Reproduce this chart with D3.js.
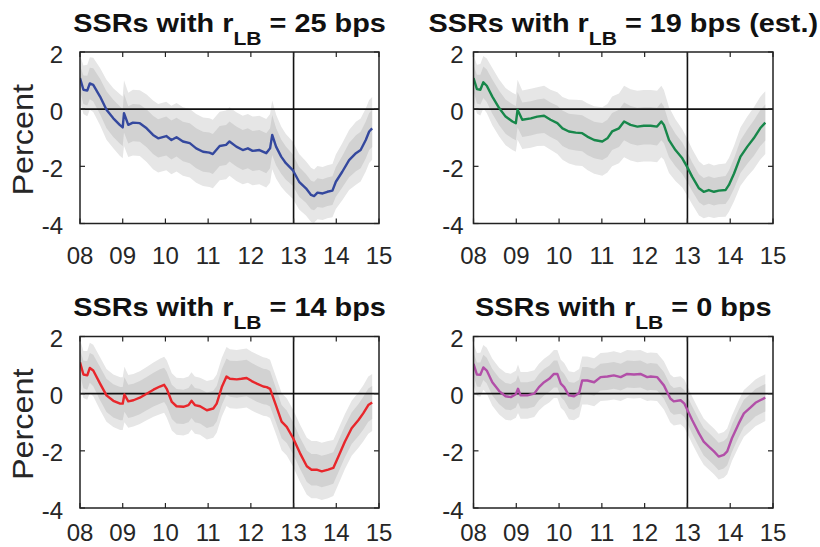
<!DOCTYPE html>
<html><head><meta charset="utf-8">
<script src="https://cdn.jsdelivr.net/npm/d3@7"></script>
<style>body{margin:0;background:#fff}svg{display:block}</style>
</head><body>
<svg id="c" width="820" height="547"></svg>
<script>
// ---- data: rows are [date (decimal year), median, inner half-band, outer half-band]
const xTickValues = [2008, 2009, 2010, 2011, 2012, 2013, 2014, 2015];
const xTickLabels = ["08", "09", "10", "11", "12", "13", "14", "15"];
const yTickValues = [2, 0, -2, -4];
const yTickLabels = ["2", "0", "-2", "-4"];
const markerYear = 2013;
const panelLowerBounds = ["25 bps", "19 bps (est.)", "14 bps", "0 bps"];

const ssr25 = [
[2008.00,1.09,.45,.80],[2008.08,0.68,.50,.85],[2008.17,0.65,.52,.90],[2008.23,0.90,.55,.92],
[2008.31,0.85,.58,.95],[2008.47,0.44,.62,1.00],[2008.62,-0.02,.65,1.05],[2008.78,-0.32,.65,1.05],
[2008.93,-0.55,.65,1.08],[2009.00,-0.64,.65,1.08],[2009.03,-0.14,.68,1.15],[2009.13,-0.55,.65,1.12],
[2009.24,-0.47,.65,1.15],[2009.40,-0.49,.65,1.15],[2009.56,-0.67,.66,1.18],[2009.71,-0.90,.67,1.20],
[2009.83,-1.02,.67,1.20],[2010.02,-0.94,.68,1.20],[2010.14,-1.08,.68,1.20],[2010.26,-0.98,.68,1.20],
[2010.41,-1.13,.69,1.20],[2010.57,-1.19,.70,1.20],[2010.72,-1.37,.70,1.20],[2010.88,-1.49,.70,1.20],
[2011.03,-1.52,.70,1.20],[2011.11,-1.57,.70,1.20],[2011.27,-1.29,.70,1.20],[2011.42,-1.25,.70,1.20],
[2011.50,-1.13,.70,1.20],[2011.66,-1.31,.70,1.20],[2011.81,-1.43,.70,1.20],[2011.93,-1.37,.70,1.20],
[2012.04,-1.46,.70,1.20],[2012.20,-1.43,.70,1.20],[2012.36,-1.54,.70,1.20],[2012.45,-1.37,.70,1.20],
[2012.50,-0.90,.70,1.20],[2012.59,-1.31,.65,1.12],[2012.71,-1.66,.60,1.05],[2012.82,-1.89,.58,1.02],
[2012.98,-2.13,.55,1.00],[2013.13,-2.54,.52,.97],[2013.29,-2.77,.50,.95],[2013.41,-3.00,.50,.95],
[2013.48,-3.04,.50,.93],[2013.56,-2.92,.50,.93],[2013.68,-2.95,.50,.93],[2013.79,-2.89,.50,.93],
[2013.91,-2.85,.50,.93],[2013.99,-2.54,.52,.95],[2014.14,-2.19,.55,1.00],[2014.30,-1.78,.60,1.05],
[2014.46,-1.54,.63,1.10],[2014.57,-1.43,.64,1.10],[2014.69,-1.08,.65,1.10],[2014.77,-0.78,.65,1.10],
[2014.84,-0.67,.65,1.10]
];

const ssr19 = [
[2008.00,1.09,.45,.80],[2008.08,0.70,.50,.85],[2008.16,0.68,.52,.90],[2008.23,0.94,.55,.92],
[2008.31,0.82,.57,.95],[2008.44,0.44,.60,1.00],[2008.60,0.04,.60,1.00],[2008.75,-0.26,.60,1.00],
[2008.91,-0.43,.60,1.00],[2008.99,-0.49,.60,1.00],[2009.03,-0.02,.62,1.05],[2009.14,-0.37,.60,1.02],
[2009.34,-0.32,.60,1.03],[2009.49,-0.26,.60,1.03],[2009.65,-0.23,.60,1.05],[2009.80,-0.37,.60,1.05],
[2009.96,-0.49,.61,1.08],[2010.08,-0.67,.62,1.10],[2010.23,-0.78,.62,1.12],[2010.39,-0.82,.63,1.15],
[2010.54,-0.84,.63,1.15],[2010.66,-0.96,.64,1.17],[2010.82,-1.08,.64,1.18],[2011.01,-1.13,.65,1.20],
[2011.13,-1.02,.65,1.20],[2011.24,-0.78,.65,1.22],[2011.40,-0.67,.65,1.22],[2011.52,-0.43,.66,1.25],
[2011.67,-0.55,.66,1.25],[2011.83,-0.61,.66,1.25],[2011.98,-0.58,.66,1.25],[2012.14,-0.58,.66,1.25],
[2012.29,-0.61,.66,1.25],[2012.39,-0.43,.66,1.25],[2012.45,-0.55,.64,1.22],[2012.57,-1.08,.60,1.15],
[2012.72,-1.43,.57,1.08],[2012.88,-1.72,.55,1.02],[2012.99,-2.01,.53,1.00],[2013.11,-2.36,.50,.97],
[2013.27,-2.77,.49,.95],[2013.38,-2.89,.48,.93],[2013.50,-2.83,.48,.93],[2013.62,-2.89,.48,.92],
[2013.73,-2.85,.48,.92],[2013.89,-2.83,.49,.93],[2013.97,-2.65,.50,.94],[2014.09,-2.25,.53,.97],
[2014.24,-1.66,.57,1.02],[2014.40,-1.31,.60,1.05],[2014.55,-1.02,.62,1.08],[2014.70,-0.67,.63,1.10],
[2014.82,-0.47,.63,1.10]
];

const ssr14 = [
[2008.00,1.10,.45,.80],[2008.08,0.67,.48,.82],[2008.17,0.64,.50,.85],[2008.23,0.90,.52,.88],
[2008.31,0.81,.55,.90],[2008.47,0.35,.58,.92],[2008.62,-0.06,.58,.92],[2008.78,-0.25,.58,.92],
[2008.94,-0.35,.58,.92],[2009.00,-0.35,.58,.92],[2009.04,-0.03,.60,.97],[2009.13,-0.27,.58,.92],
[2009.25,-0.23,.58,.92],[2009.40,-0.14,.58,.92],[2009.56,0.00,.58,.93],[2009.72,0.14,.59,.95],
[2009.87,0.25,.60,.97],[2009.97,0.31,.60,.98],[2010.03,0.17,.60,1.00],[2010.15,-0.29,.60,1.00],
[2010.26,-0.44,.60,1.00],[2010.42,-0.46,.60,1.00],[2010.54,-0.40,.60,1.00],[2010.61,-0.25,.60,1.00],
[2010.69,-0.40,.60,1.00],[2010.81,-0.44,.60,1.00],[2010.97,-0.58,.62,1.02],[2011.12,-0.52,.62,1.02],
[2011.20,-0.35,.62,1.02],[2011.32,0.23,.63,1.03],[2011.43,0.60,.63,1.03],[2011.51,0.52,.63,1.03],
[2011.67,0.50,.64,1.03],[2011.78,0.52,.64,1.03],[2011.90,0.55,.64,1.03],[2012.02,0.44,.63,1.03],
[2012.14,0.35,.63,1.03],[2012.29,0.25,.62,1.02],[2012.37,0.23,.62,1.02],[2012.45,0.17,.62,1.02],
[2012.60,-0.46,.60,1.00],[2012.72,-0.98,.58,1.00],[2012.84,-1.16,.57,1.00],[2012.99,-1.56,.56,1.00],
[2013.15,-2.08,.55,1.00],[2013.31,-2.54,.55,1.00],[2013.42,-2.66,.55,1.00],[2013.54,-2.66,.55,1.00],
[2013.66,-2.72,.55,1.00],[2013.81,-2.66,.55,1.00],[2013.93,-2.60,.55,.98],[2014.05,-2.20,.55,.97],
[2014.20,-1.68,.55,.96],[2014.36,-1.21,.55,.96],[2014.52,-0.92,.56,.97],[2014.63,-0.69,.57,.98],
[2014.75,-0.40,.58,1.00],[2014.84,-0.31,.58,1.00]
];

const ssr0 = [
[2008.00,1.04,.40,.72],[2008.08,0.67,.42,.75],[2008.16,0.66,.43,.77],[2008.23,0.92,.44,.78],
[2008.31,0.81,.45,.80],[2008.44,0.40,.46,.82],[2008.60,0.09,.46,.82],[2008.75,-0.09,.46,.82],
[2008.87,-0.12,.46,.82],[2008.99,-0.02,.46,.82],[2009.04,0.17,.48,.85],[2009.10,-0.06,.46,.82],
[2009.26,-0.06,.46,.82],[2009.42,0.00,.46,.82],[2009.53,0.23,.46,.82],[2009.65,0.40,.46,.82],
[2009.77,0.52,.46,.83],[2009.88,0.69,.47,.84],[2009.96,0.69,.47,.84],[2010.04,0.35,.47,.84],
[2010.12,0.23,.47,.84],[2010.23,-0.06,.47,.84],[2010.35,-0.09,.47,.84],[2010.47,0.02,.47,.84],
[2010.54,0.46,.47,.84],[2010.66,0.46,.47,.84],[2010.82,0.40,.47,.84],[2010.97,0.58,.47,.84],
[2011.13,0.60,.47,.84],[2011.28,0.64,.47,.84],[2011.44,0.58,.47,.84],[2011.59,0.69,.47,.84],
[2011.75,0.67,.47,.84],[2011.90,0.69,.47,.84],[2012.06,0.58,.47,.84],[2012.14,0.60,.47,.84],
[2012.29,0.58,.47,.84],[2012.45,0.29,.47,.84],[2012.60,-0.17,.47,.84],[2012.68,-0.27,.47,.84],
[2012.84,-0.23,.47,.84],[2012.93,-0.35,.47,.84],[2013.11,-0.92,.48,.82],[2013.27,-1.39,.48,.82],
[2013.38,-1.68,.48,.81],[2013.50,-1.85,.48,.80],[2013.62,-2.02,.48,.80],[2013.73,-2.20,.48,.80],
[2013.85,-2.14,.48,.80],[2013.93,-2.02,.48,.80],[2014.04,-1.56,.48,.80],[2014.20,-1.04,.48,.81],
[2014.32,-0.69,.48,.82],[2014.47,-0.49,.48,.82],[2014.59,-0.32,.48,.82],[2014.70,-0.23,.48,.82],
[2014.82,-0.14,.48,.82]
];

const seriesList = [ssr25, ssr19, ssr14, ssr0];
const lineColors = ["#34489e", "#17874a", "#e8262b", "#b24fa8"];

// ---- layout
const panels = [
  {x0: 80,    x1: 379, y0: 52,    y1: 223.5, ylab: true,  gap: 17, lab: 40},
  {x0: 473.5, x1: 773, y0: 52,    y1: 223.5, ylab: false, gap: 10, lab: 40},
  {x0: 80,    x1: 379, y0: 336.5, y1: 508,   ylab: true,  gap: 17, lab: 33},
  {x0: 473.5, x1: 773, y0: 336.5, y1: 508,   ylab: false, gap: 10, lab: 33}
];

const svg = d3.select("#c");
const FONT = "'Liberation Sans', Arial, Helvetica, sans-serif";
const axisColor = "#222";

panels.forEach((p, i) => {
  const data = seriesList[i];
  const x = d3.scaleLinear().domain([2008, 2015]).range([p.x0, p.x1]);
  const y = d3.scaleLinear().domain([-4, 2]).range([p.y1, p.y0]);
  const g = svg.append("g");

  const clipId = "clip" + i;
  svg.append("clipPath").attr("id", clipId).append("rect")
    .attr("x", p.x0).attr("y", p.y0).attr("width", p.x1 - p.x0).attr("height", p.y1 - p.y0);
  const plot = g.append("g").attr("clip-path", `url(#${clipId})`);

  const outer = d3.area().x(d => x(d[0])).y0(d => y(d[1] - d[3])).y1(d => y(d[1] + d[3]));
  const inner = d3.area().x(d => x(d[0])).y0(d => y(d[1] - d[2])).y1(d => y(d[1] + d[2]));
  plot.append("path").datum(data).attr("d", outer).attr("fill", "#e6e6e6");
  plot.append("path").datum(data).attr("d", inner).attr("fill", "#d2d2d2");

  // reference lines
  plot.append("line").attr("x1", p.x0).attr("x2", p.x1).attr("y1", y(0)).attr("y2", y(0))
    .attr("stroke", "#111").attr("stroke-width", 1.6);
  plot.append("line").attr("x1", x(markerYear)).attr("x2", x(markerYear)).attr("y1", p.y0).attr("y2", p.y1)
    .attr("stroke", "#111").attr("stroke-width", 1.6);

  const line = d3.line().x(d => x(d[0])).y(d => y(d[1]));
  plot.append("path").datum(data).attr("d", line).attr("fill", "none")
    .attr("stroke", lineColors[i]).attr("stroke-width", 2.4).attr("stroke-linejoin", "round");

  // box
  g.append("rect").attr("x", p.x0).attr("y", p.y0).attr("width", p.x1 - p.x0).attr("height", p.y1 - p.y0)
    .attr("fill", "none").attr("stroke", axisColor).attr("stroke-width", 1.5);

  // ticks (inward, on all four sides)
  const tl = 5;
  xTickValues.forEach(v => {
    g.append("line").attr("x1", x(v)).attr("x2", x(v)).attr("y1", p.y1).attr("y2", p.y1 - tl)
      .attr("stroke", axisColor).attr("stroke-width", 1.2);
    g.append("line").attr("x1", x(v)).attr("x2", x(v)).attr("y1", p.y0).attr("y2", p.y0 + tl)
      .attr("stroke", axisColor).attr("stroke-width", 1.2);
  });
  yTickValues.forEach(v => {
    g.append("line").attr("x1", p.x0).attr("x2", p.x0 + tl).attr("y1", y(v)).attr("y2", y(v))
      .attr("stroke", axisColor).attr("stroke-width", 1.2);
    g.append("line").attr("x1", p.x1).attr("x2", p.x1 - tl).attr("y1", y(v)).attr("y2", y(v))
      .attr("stroke", axisColor).attr("stroke-width", 1.2);
  });

  // tick labels
  xTickValues.forEach((v, k) => {
    g.append("text").attr("x", x(v)).attr("y", p.y1 + p.lab).attr("text-anchor", "middle")
      .attr("font-family", FONT).attr("font-size", 24).attr("fill", "#262626").text(xTickLabels[k]);
  });
  yTickValues.forEach((v, k) => {
    g.append("text").attr("x", p.x0 - p.gap).attr("y", y(v) + 2).attr("text-anchor", "end")
      .attr("dominant-baseline", "central")
      .attr("font-family", FONT).attr("font-size", 24).attr("fill", "#262626").text(yTickLabels[k]);
  });

  // y label
  if (p.ylab) {
    g.append("text")
      .attr("transform", `translate(33,${(p.y0 + p.y1) / 2 + 2}) rotate(-90) scale(1.08,1)`)
      .attr("text-anchor", "middle").attr("font-family", FONT).attr("font-size", 30)
      .attr("fill", "#262626").text("Percent");
  }

  // title
  const t = g.append("text")
    .attr("transform", `translate(${(p.x0 + p.x1) / 2},${p.y0 - 20.5}) scale(1.11,1)`)
    .attr("text-anchor", "middle").attr("font-family", FONT).attr("font-weight", "bold")
    .attr("font-size", 26).attr("fill", "#111");
  t.append("tspan").text("SSRs with r");
  t.append("tspan").attr("font-size", 19).attr("dy", 13).text("LB");
  t.append("tspan").attr("dy", -13).text(" = " + panelLowerBounds[i]);
});
</script>
</body></html>
